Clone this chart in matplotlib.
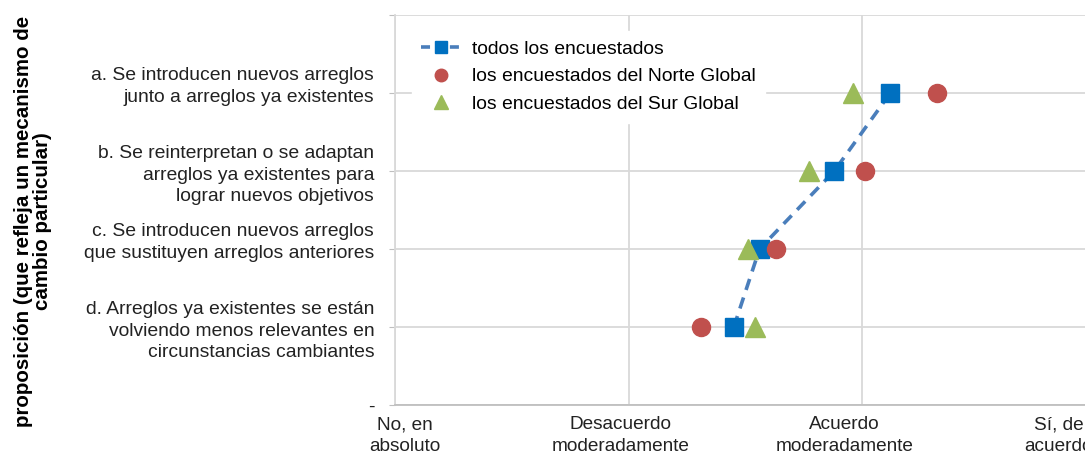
import numpy as np
from matplotlib import pyplot as plt
from matplotlib.lines import Line2D

plt.rcParams['font.family'] = ['Liberation Sans', 'DejaVu Sans']

# filas (de abajo hacia arriba en el eje y)
proposiciones = [
  "d. Arreglos ya existentes se están\nvolviendo menos relevantes en\ncircunstancias cambiantes",
  "c. Se introducen nuevos arreglos\nque sustituyen arreglos anteriores\n ",
  "b. Se reinterpretan o se adaptan\narreglos ya existentes para\nlograr nuevos objetivos",
  "a. Se introducen nuevos arreglos\njunto a arreglos ya existentes\n ",
]
posiciones = [1, 2, 3, 4]

escala = ["No, en\nabsoluto", "Desacuerdo\nmoderadamente",
          "Acuerdo\nmoderadamente", "Sí, de\nacuerdo"]

todos = [1.45, 1.56, 1.88, 2.12]
norte = [1.31, 1.63, 2.01, 2.32]
sur = [1.54, 1.51, 1.77, 1.96]

azul, rojo, verde = '#0070c0', '#c0504d', '#9bbb59'

fig = plt.figure(figsize=(10.85, 4.57), dpi=100)
ax = fig.add_axes([395 / 1085, 52 / 457, 701 / 1085, 390 / 457])

ax.plot(todos, posiciones, color='#4a7ebb', ls=(0, (3.2, 2.2)), lw=2.6,
        marker='s', ms=13, mfc=azul, mec=azul, zorder=3)
ax.plot(norte, posiciones, ls='none', marker='o', ms=13,
        mfc=rojo, mec=rojo, zorder=4)
ax.plot(sur, posiciones, ls='none', marker='^', ms=14,
        mfc=verde, mec=verde, zorder=4)

ax.set_xlim(0, 3)
ax.set_ylim(0, 5)

# rótulos del eje x (en el original no caen justo sobre la marca)
ax.set_xticks(range(4))
ax.set_xticklabels([])
ax.tick_params(axis='x', length=0)
desplaz = [7, -6, -13, -27]
for i, (txt, dx) in enumerate(zip(escala, desplaz)):
  ax.annotate(txt, xy=(i, 0), xytext=(dx, -8), textcoords='offset points',
              ha='center', va='top', fontsize=13.7, color='#222222',
              linespacing=1.38, annotation_clip=False)

ax.set_yticks([0] + posiciones + [5])
ax.set_yticklabels(['-'] + proposiciones + [''], fontsize=13.9, color='#222222',
                   linespacing=1.35)
ax.tick_params(axis='y', length=4, color='#bfbfbf', pad=11)

ax.grid(True, color='#d9d9d9', lw=1.3)
ax.set_axisbelow(True)
for lado in ['top', 'right']:
  ax.spines[lado].set_visible(False)
ax.spines['left'].set_color('#d9d9d9')
ax.spines['left'].set_linewidth(1.3)
ax.spines['bottom'].set_color('#bfbfbf')
ax.spines['bottom'].set_linewidth(1.3)

# título del eje y
fig.text(33 / 1085, 1 - 221 / 457,
         "proposición (que refleja un mecanismo de\ncambio particular)",
         rotation=90, ha='center', va='center', multialignment='center',
         fontsize=14.8, fontweight='bold', linespacing=0.95)

handles = [
  Line2D([], [], color='#4a7ebb', ls=(0, (2.5, 1.5)), lw=2.6, marker='s', ms=9,
         mfc=azul, mec=azul),
  Line2D([], [], ls='none', marker='o', ms=9, mfc=rojo, mec=rojo),
  Line2D([], [], ls='none', marker='^', ms=10, mfc=verde, mec=verde),
]
etiquetas = ['todos los encuestados', 'los encuestados del Norte Global',
             'los encuestados del Sur Global']
leg = ax.legend(handles, etiquetas, loc='upper left', bbox_to_anchor=(0.024, 0.96),
                frameon=True, fontsize=13.9, handlelength=2.0, labelspacing=0.52,
                borderpad=0.5, handletextpad=0.6, borderaxespad=0)
leg.get_frame().set_edgecolor('white')
leg.get_frame().set_facecolor('white')
leg.get_frame().set_alpha(1)
leg.get_frame().set_boxstyle('square', pad=0)

fig.savefig('out.png', dpi=100)
